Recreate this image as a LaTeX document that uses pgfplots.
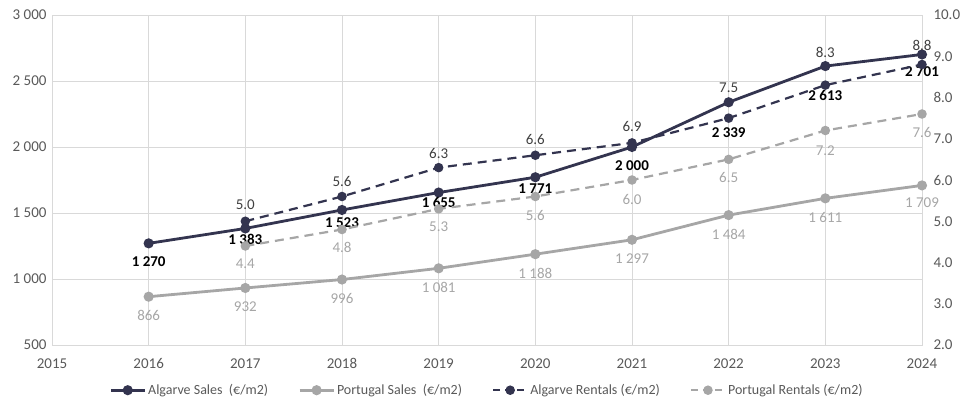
\documentclass[border=0pt]{standalone}
\usepackage{pgfplots}
\pgfplotsset{compat=1.18}
\usepackage{fontspec}
\setmainfont{Carlito}
\definecolor{navy}{HTML}{33344F}
\definecolor{pgray}{HTML}{A6A6A6}
\definecolor{tickc}{HTML}{595959}
\definecolor{gridc}{HTML}{D9D9D9}
\definecolor{rlab}{HTML}{404040}

\pgfplotstableread{
x y off
2016 1270 -18
2017 1383 -11
2018 1523 -13
2019 1655 -10
2020 1771 -11
2021 2000 -19
2022 2339 -30
2023 2613 -29
2024 2701 -17
}\algsales
\pgfplotstableread{
x y off
2016 866 -19
2017 932 -19
2018 996 -19
2019 1081 -19
2020 1188 -19
2021 1297 -19
2022 1484 -19
2023 1611 -19
2024 1709 -17
}\ptsales
\pgfplotstableread{
x y off
2017 5.0 17
2018 5.6 15
2019 6.3 14
2020 6.6 16
2021 6.9 16
2022 7.5 30
2023 8.3 33
2024 8.8 19
}\algrent
\pgfplotstableread{
x y off
2017 4.4 -18
2018 4.8 -18
2019 5.3 -18
2020 5.6 -19
2021 6.0 -19
2022 6.5 -18
2023 7.2 -20
2024 7.6 -18
}\ptrent

\begin{document}
\begin{tikzpicture}
\useasboundingbox (0pt,0pt) rectangle (967pt,402pt);
\pgfplotsset{
  common/.style={
    at={(52pt,57pt)}, anchor=south west,
    scale only axis, width=870pt, height=330pt,
    xmin=2015, xmax=2024,
    tick style={draw=none},
    ticklabel style={font=\fontsize{15}{17}\selectfont, text=tickc},
    /pgf/number format/assume math mode=true,
    nodes near coords,
    point meta=y,
    visualization depends on={\thisrow{off} \as \myoff},
    every node near coord/.append style={anchor=center, yshift=\myoff pt, font=\fontsize{15}{17}\selectfont},
  },
  mk/.style={mark=*, mark size=3.6pt, mark options={solid}},
  leg/.style={legend image code/.code={
     \draw[mark repeat=2,mark phase=2] plot coordinates {(0pt,0pt) (17pt,0pt) (34pt,0pt)};}},
}
\begin{axis}[common,
  ymin=500, ymax=3000, ytick={500,1000,...,3000},
  xtick={2015,...,2024},
  x tick label style={/pgf/number format/1000 sep={}, yshift=-10pt},
  y tick label style={/pgf/number format/1000 sep={\ }, xshift=-2pt},
  grid=major, major grid style={gridc, line width=0.8pt},
  axis line style={gridc, line width=0.8pt},
  /pgf/number format/1000 sep={\ },
  legend style={at={(0.5,-0.137)}, anchor=center, legend columns=4, draw=none, fill=none,
    font=\fontsize{14}{16}\selectfont, text=tickc,
    /tikz/every even column/.append style={column sep=28pt},
    /tikz/every odd column/.append style={column sep=0pt}},
  leg,
]
\addplot[navy, line width=2.8pt, mk, every node near coord/.append style={text=black, font=\fontsize{15}{17}\selectfont\bfseries}] table[x=x,y=y]{\algsales};
\addlegendentry{Algarve Sales\ \ (€/m2)}
\addplot[pgray, line width=2.8pt, mk, every node near coord/.append style={text=pgray}] table[x=x,y=y]{\ptsales};
\addlegendentry{Portugal Sales\ \ (€/m2)}
\addlegendimage{navy, line width=2.2pt, dash pattern=on 7pt off 5pt, mk}
\addlegendentry{Algarve Rentals (€/m2)}
\addlegendimage{pgray, line width=2.2pt, dash pattern=on 7pt off 5pt, mk}
\addlegendentry{Portugal Rentals (€/m2)}
\end{axis}
\begin{axis}[common,
  ymin=2, ymax=10, ytick={2,...,10},
  axis x line=none, axis y line*=right,
  axis line style={draw=none},
  y tick label style={/pgf/number format/.cd, fixed, fixed zerofill, precision=1, /tikz/.cd, xshift=8pt},
  /pgf/number format/fixed, /pgf/number format/fixed zerofill, /pgf/number format/precision=1,
]
\addplot[navy, line width=2.2pt, dash pattern=on 9pt off 6pt, mk, every node near coord/.append style={text=rlab}] table[x=x,y=y]{\algrent};
\addplot[pgray, line width=2.2pt, dash pattern=on 9pt off 6pt, mk, every node near coord/.append style={text=pgray}] table[x=x,y=y]{\ptrent};
\end{axis}
\end{tikzpicture}
\end{document}
